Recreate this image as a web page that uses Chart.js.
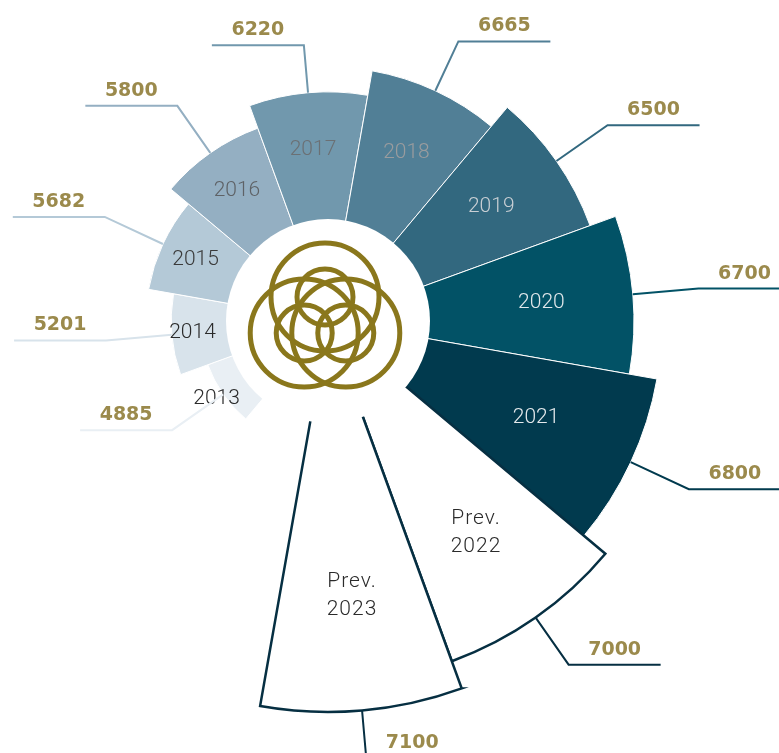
<!DOCTYPE html>
<html>
<head>
<meta charset="utf-8">
<script src="https://cdn.jsdelivr.net/npm/chart.js@4.4.0/dist/chart.umd.min.js"></script>
<style>
  html, body { margin: 0; padding: 0; background: #fff; }
  #wrap { position: relative; width: 779px; height: 753px; overflow: hidden; }
  #rose { position: absolute; left: -124px; top: -131px; }
</style>
</head>
<body>
<div id="wrap"><canvas id="rose" width="904" height="904"></canvas></div>
<script>
// categories and values shown on the chart
const years = ['2013', '2014', '2015', '2016', '2017', '2018', '2019', '2020', '2021', 'Prev. 2022', 'Prev. 2023'];
const values = [4885, 5201, 5682, 5800, 6220, 6665, 6500, 6700, 6800, 7000, 7100];
// wedge length (percent of chart radius)
const ringLevel = [28.3, 34.7, 40.3, 45.4, 50.7, 56.2, 61.7, 67.7, 73.9, 80.1, 86.5];
const isForecast = [false, false, false, false, false, false, false, false, false, true, true];

const fillColors = ['#e9eff4', '#d8e3eb', '#b4c9d7', '#94afc2', '#7198ad', '#517f96', '#32687f', '#025266', '#013a4e', '#ffffff', '#ffffff'];
const textColors = ['#2b2b2b', '#2b2b2b', '#3a3a3a', '#5e6266', '#6b7074', '#9a9c9e', '#c9cfd4', '#e2e8eb', '#e4e9ec', '#2b2b2b', '#2b2b2b'];
const navy = '#062f42';
const gold = '#9b8a4c';
const logoGold = '#8a771c';
const HOLE = 102;

function drawLogo(ctx, x, y) {
    ctx.save();
    ctx.strokeStyle = logoGold;
    ctx.lineWidth = 5;
    [-90, 150, 30].forEach(function(deg) {
        const a = deg * Math.PI / 180;
        const ox = x + Math.cos(a) * 24, oy = y + Math.sin(a) * 24;
        ctx.beginPath();
        ctx.arc(ox, oy, 54, 0, Math.PI * 2);
        ctx.stroke();
        ctx.beginPath();
        ctx.arc(ox, oy, 28, 0, Math.PI * 2);
        ctx.stroke();
    });
    ctx.restore();
}

const roseOverlay = {
    id: 'roseOverlay',
    afterDatasetsDraw(chart) {
        const ctx = chart.ctx;
        const arcs = chart.getDatasetMeta(0).data;
        const cx = arcs[0].x, cy = arcs[0].y;

        ctx.save();
        ctx.fillStyle = '#fff';
        ctx.beginPath();
        ctx.arc(cx, cy, HOLE, 0, Math.PI * 2);
        ctx.fill();
        drawLogo(ctx, cx - 3, cy);

        arcs.forEach(function(arc, i) {
            const mid = (arc.startAngle + arc.endAngle) / 2;
            const cos = Math.cos(mid), sin = Math.sin(mid);

            // year label inside wedge
            const frac = isForecast[i] ? 0.6 : 0.55;
            const r = Math.max(HOLE + 34, HOLE + frac * (arc.outerRadius - HOLE));
            const lx = cx + cos * r, ly = cy + sin * r;
            const lines = years[i].split(' ');
            ctx.font = '300 21px Roboto';
            ctx.letterSpacing = isForecast[i] ? '1px' : '0px';
            ctx.fillStyle = textColors[i];
            ctx.textAlign = 'center';
            ctx.textBaseline = 'middle';
            lines.forEach(function(t, k) {
                ctx.fillText(t, lx, ly + (k - (lines.length - 1) / 2) * 28);
            });
            ctx.letterSpacing = '0px';

            // leader line: short radial piece, then a flat run
            const len = 46 + 20 * Math.abs(cos);
            const sx = cx + cos * arc.outerRadius, sy = cy + sin * arc.outerRadius;
            const ex = sx + cos * len, ey = sy + sin * len;
            const dir = cos >= 0 ? 1 : -1;
            ctx.strokeStyle = isForecast[i] ? navy : fillColors[i];
            ctx.lineWidth = 2;
            ctx.beginPath();
            ctx.moveTo(sx, sy);
            ctx.lineTo(ex, ey);
            ctx.lineTo(ex + dir * 92, ey);
            ctx.stroke();

            ctx.font = 'bold 19px "DejaVu Sans"';
            ctx.fillStyle = gold;
            ctx.fillText(String(values[i]), ex + dir * 46, ey - 15);
        });
        ctx.restore();
    }
};

new Chart(document.getElementById('rose'), {
    type: 'polarArea',
    data: {
        labels: years,
        datasets: [{
            data: ringLevel,
            angle: 30,
            backgroundColor: fillColors,
            borderColor: isForecast.map(function(f) { return f ? navy : '#ffffff'; }),
            borderWidth: isForecast.map(function(f) { return f ? 2.5 : 1; }),
            borderJoinStyle: 'miter'
        }]
    },
    options: {
        responsive: false,
        animation: false,
        plugins: {
            legend: { display: false },
            tooltip: { enabled: false }
        },
        scales: {
            r: {
                min: 0,
                max: 100,
                startAngle: 220,
                grid: { display: false },
                angleLines: { display: false },
                ticks: { display: false },
                pointLabels: { display: false }
            }
        }
    },
    plugins: [roseOverlay]
});
</script>
</body>
</html>
